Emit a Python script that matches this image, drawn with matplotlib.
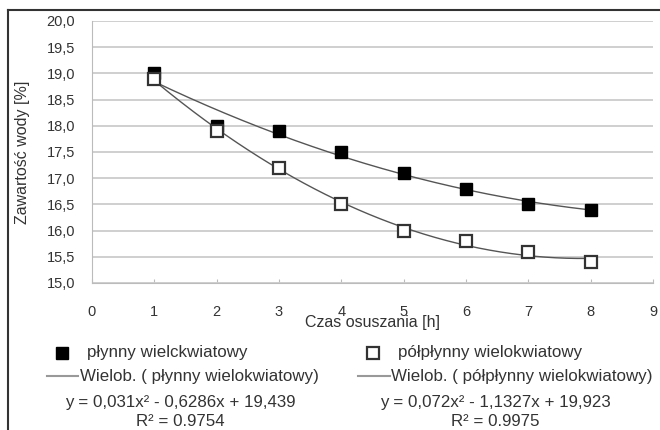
import matplotlib.pyplot as plt
import numpy as np
from matplotlib.lines import Line2D

plt.rcParams['font.family'] = ['Liberation Sans', 'DejaVu Sans']

# czas osuszania [h] i zawartość wody [%]
hours = [1, 2, 3, 4, 5, 6, 7, 8]
plynny = [19.0, 18.0, 17.9, 17.5, 17.1, 16.8, 16.5, 16.4]
polplynny = [18.9, 17.9, 17.2, 16.5, 16.0, 15.8, 15.6, 15.4]

# wielomiany trendu (a, b, c) -> y = a*x^2 + b*x + c
coef_plynny = [0.031, -0.6286, 19.439]
coef_polplynny = [0.072, -1.1327, 19.923]
r2_plynny = 0.9754
r2_polplynny = 0.9975

name1 = 'płynny wielckwiatowy'
name1_trend = 'płynny wielokwiatowy'
name2 = 'półpłynny wielokwiatowy'

txt = '#333333'
fig = plt.figure(figsize=(6.6, 4.3), dpi=100)
W, H = 660.0, 430.0
ax = fig.add_axes([92 / W, 1 - 283 / H, (653 - 92) / W, (283 - 21) / H])

xs = np.linspace(1, 8, 200)
ax.plot(xs, np.polyval(coef_plynny, xs), color='#555555', lw=1.0, zorder=2)
ax.plot(xs, np.polyval(coef_polplynny, xs), color='#555555', lw=1.0, zorder=2)
ax.plot(hours, plynny, ls='none', marker='s', ms=8.5, mfc='black', mec='black', zorder=3)
ax.plot(hours, polplynny, ls='none', marker='s', ms=8.5, mfc='white', mec='#333333',
        mew=1.6, zorder=3)

ax.set_xlim(0, 9)
ax.set_ylim(15, 20)
ax.set_xticks(range(0, 10))
ax.set_yticks(np.arange(15, 20.01, 0.5))
ax.set_yticklabels([f'{v:.1f}'.replace('.', ',') for v in np.arange(15, 20.01, 0.5)])
ax.grid(axis='y', color='#cccccc', lw=1.3)
ax.set_axisbelow(True)
for s in ['top', 'right']:
    ax.spines[s].set_visible(False)
ax.spines['left'].set_color('#bbbbbb')
ax.spines['bottom'].set_color('#bbbbbb')
ax.tick_params(axis='y', length=0, pad=12, labelsize=10.5, labelcolor=txt)
ax.tick_params(axis='x', direction='in', length=3, color='#bbbbbb', pad=16,
               labelsize=10.5, labelcolor=txt)
ax.set_xlabel('Czas osuszania [h]', fontsize=11.5, color=txt, labelpad=-3)
ax.set_ylabel('Zawartość wody [%]', fontsize=11.5, color=txt, labelpad=12)


def px(x, y):
    return x / W, 1 - y / H


# legenda pod wykresem
fs = 12.2
fig.add_artist(Line2D(*zip(px(62, 353)), marker='s', ms=8, mfc='black', mec='black',
                      ls='none', transform=fig.transFigure))
fig.text(*px(87, 353), name1, fontsize=fs, color=txt, va='center')
fig.add_artist(Line2D(*zip(px(47, 376), px(78, 376)), color='#999999', lw=1.5,
                      transform=fig.transFigure))
fig.text(*px(80, 376), f'Wielob. ( {name1_trend})', fontsize=fs, color=txt, va='center')

fig.add_artist(Line2D(*zip(px(373, 353)), marker='s', ms=8, mfc='white', mec='#333333',
                      mew=1.6, ls='none', transform=fig.transFigure))
fig.text(*px(398, 353), name2, fontsize=fs, color=txt, va='center')
fig.add_artist(Line2D(*zip(px(358, 376), px(390, 376)), color='#999999', lw=1.5,
                      transform=fig.transFigure))
fig.text(*px(391, 376), f'Wielob. ( {name2})', fontsize=fs, color=txt, va='center')


def eq(c):
    s = f'y = {c[0]}x² - {abs(c[1])}x + {c[2]}'
    return s.replace('.', ',')


fig.text(*px(180, 403), eq(coef_plynny), fontsize=fs, color=txt, ha='center', va='center')
fig.text(*px(180, 421), f'R² = {r2_plynny}', fontsize=fs, color=txt, ha='center', va='center')
fig.text(*px(495, 403), eq(coef_polplynny), fontsize=fs, color=txt, ha='center', va='center')
fig.text(*px(495, 421), f'R² = {r2_polplynny}', fontsize=fs, color=txt, ha='center', va='center')

# ramka
fig.add_artist(Line2D(*zip(px(8, 10), px(660, 10)), color='#333333', lw=1.5,
                      transform=fig.transFigure))
fig.add_artist(Line2D(*zip(px(8, 10), px(8, 430)), color='#333333', lw=1.5,
                      transform=fig.transFigure))

fig.savefig('out.png', dpi=100)
